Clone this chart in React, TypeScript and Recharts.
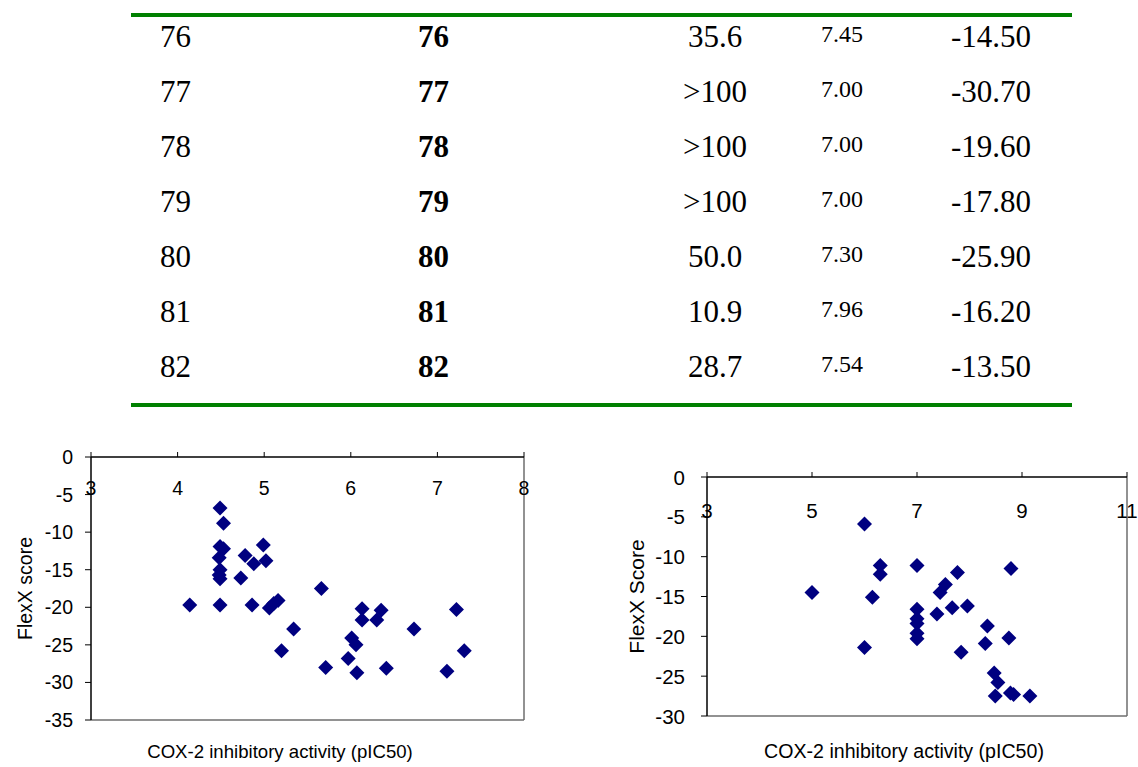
import { ScatterChart, Scatter, XAxis, YAxis, ReferenceLine } from 'recharts'

// table rows above the charts
const tableIds = ['76', '77', '78', '79', '80', '81', '82']
const tableIc50 = ['35.6', '>100', '>100', '>100', '50.0', '10.9', '28.7']
const tablePic50 = ['7.45', '7.00', '7.00', '7.00', '7.30', '7.96', '7.54']
const tableFlexX = ['-14.50', '-30.70', '-19.60', '-17.80', '-25.90', '-16.20', '-13.50']

// left scatter
const leftPic50 = [
  4.49, 4.53, 4.49, 4.53, 4.48, 4.49, 4.48, 4.49, 4.14, 4.49, 4.78, 4.88, 4.99, 5.02, 4.73, 4.86, 5.06, 5.11,
  5.16, 5.34, 5.2, 5.66, 5.71, 6.13, 6.13, 6.35, 6.3, 6.01, 6.06, 5.97, 6.07, 6.41, 6.73, 7.22, 7.31, 7.11,
]
const leftScore = [
  -6.8, -8.8, -11.9, -12.2, -13.4, -15.0, -15.7, -16.2, -19.7, -19.7, -13.1, -14.2, -11.7, -13.8, -16.1, -19.7,
  -20.1, -19.5, -19.1, -22.9, -25.8, -17.5, -28.0, -20.2, -21.7, -20.4, -21.7, -24.1, -25.0, -26.8, -28.7,
  -28.1, -22.9, -20.3, -25.8, -28.5,
]
const leftXTicks = [3, 4, 5, 6, 7, 8]
const leftYTicks = [0, -5, -10, -15, -20, -25, -30, -35]

// right scatter
const rightPic50 = [
  6.0, 5.0, 6.15, 6.3, 6.3, 6.0, 7.0, 7.0, 7.0, 7.0, 7.0, 7.0, 7.38, 7.44, 7.54, 7.67, 7.77, 7.84, 7.96, 8.34,
  8.3, 8.75, 8.79, 8.47, 8.54, 8.49, 8.78, 8.84, 9.15,
]
const rightScore = [
  -5.9, -14.5, -15.1, -11.1, -12.2, -21.4, -11.1, -16.6, -17.8, -18.4, -19.6, -20.3, -17.2, -14.5, -13.5, -16.4,
  -12.0, -22.0, -16.2, -18.7, -20.9, -20.2, -11.5, -24.6, -25.8, -27.5, -27.1, -27.3, -27.5,
]
const rightXTicks = [3, 5, 7, 9, 11]
const rightYTicks = [0, -5, -10, -15, -20, -25, -30]

const NAVY = '#000080'
const SANS = '"Liberation Sans", Arial, sans-serif'
const SERIF = '"Liberation Serif", "Times New Roman", serif'

function Diamond(props: any) {
  const { cx, cy } = props
  const r = 7.5
  return <polygon points={`${cx},${cy - r} ${cx + r},${cy} ${cx},${cy + r} ${cx - r},${cy}`} fill={NAVY} />
}

function DataTable() {
  const base = 46.5
  const step = 55
  return (
    <svg width={1138} height={420} style={{ position: 'absolute', left: 0, top: 0 }}>
      <rect x={131} y={13} width={941} height={4} fill="#008000" />
      <rect x={131} y={403} width={941} height={4} fill="#008000" />
      {tableIds.map((id, i) => {
        const y = base + i * step
        return (
          <g key={id} fontFamily={SERIF} fill="#000">
            <text x={160} y={y} fontSize={31}>{id}</text>
            <text x={418} y={y} fontSize={31} fontWeight="bold">{id}</text>
            <text x={715} y={y} fontSize={31} textAnchor="middle">{tableIc50[i]}</text>
            <text x={842} y={y - 5} fontSize={24} textAnchor="middle">{tablePic50[i]}</text>
            <text x={991} y={y} fontSize={31} textAnchor="middle">{tableFlexX[i]}</text>
          </g>
        )
      })}
    </svg>
  )
}

interface PanelProps {
  left: number
  width: number
  margin: { top: number; right: number; bottom: number; left: number }
  xs: number[]
  ys: number[]
  xTicks: number[]
  yTicks: number[]
  tickFont: number
  titleFont: number
  yTitleFont: number
  xLabelY: number
  yLabelRight: number
  yTitle: string
  yTitleX: number
  xTitleX: number
}

function Panel(p: PanelProps) {
  const data = p.xs.map((x, i) => ({ x, y: p.ys[i] }))
  const xMin = p.xTicks[0]
  const xMax = p.xTicks[p.xTicks.length - 1]
  const yMin = p.yTicks[p.yTicks.length - 1]
  const height = 337
  const plotTop = p.margin.top + 20
  const plotBottom = height - p.margin.bottom
  const midY = (plotTop + plotBottom) / 2
  const txt = { fontSize: p.tickFont, fontFamily: SANS, fill: '#000' }

  const XTick = (t: any) => (
    <text x={t.x} y={p.xLabelY} textAnchor="middle" dominantBaseline="central" style={txt}>
      {t.payload.value}
    </text>
  )
  const YTick = (t: any) => (
    <text x={p.yLabelRight} y={t.y} textAnchor="end" dominantBaseline="central" style={txt}>
      {t.payload.value}
    </text>
  )

  return (
    <div style={{ position: 'absolute', left: p.left, top: 430 }}>
      <ScatterChart width={p.width} height={height} margin={p.margin}>
        <XAxis
          type="number"
          dataKey="x"
          orientation="top"
          height={20}
          domain={[xMin, xMax]}
          ticks={p.xTicks}
          interval={0}
          tickSize={5}
          axisLine={{ stroke: '#000', strokeWidth: 1.5 }}
          tickLine={{ stroke: '#000' }}
          tick={XTick}
          label={() => (
            <text x={p.xTitleX} y={328} textAnchor="middle" style={{ fontSize: p.titleFont, fontFamily: SANS, fill: '#000' }}>
              COX-2 inhibitory activity (pIC50)
            </text>
          )}
        />
        <YAxis
          type="number"
          dataKey="y"
          width={60}
          domain={[yMin, 0]}
          ticks={p.yTicks}
          interval={0}
          tickSize={6}
          axisLine={{ stroke: '#000', strokeWidth: 1.5 }}
          tickLine={{ stroke: '#000' }}
          tick={YTick}
          label={() => (
            <text
              x={p.yTitleX}
              y={midY}
              transform={`rotate(-90 ${p.yTitleX} ${midY})`}
              textAnchor="middle"
              dominantBaseline="central"
              style={{ fontSize: p.yTitleFont, fontFamily: SANS, fill: '#000' }}
            >
              {p.yTitle}
            </text>
          )}
        />
        <ReferenceLine x={xMax} stroke="#6e6e6e" strokeWidth={1.5} />
        <ReferenceLine y={yMin} stroke="#6e6e6e" strokeWidth={1.5} />
        <Scatter data={data} fill={NAVY} shape={(s: any) => <Diamond {...s} />} isAnimationActive={false} />
      </ScatterChart>
    </div>
  )
}

export default function App() {
  return (
    <div style={{ position: 'absolute', left: 0, top: 0, width: 1138, height: 767, background: '#fff' }}>
      <DataTable />
      <Panel
        left={0}
        width={560}
        margin={{ top: 7, right: 36, bottom: 47, left: 31 }}
        xs={leftPic50}
        ys={leftScore}
        xTicks={leftXTicks}
        yTicks={leftYTicks}
        tickFont={19.5}
        titleFont={18.6}
        yTitleFont={19.5}
        xLabelY={58}
        yLabelRight={73}
        yTitle="FlexX score"
        yTitleX={25}
        xTitleX={280}
      />
      <Panel
        left={600}
        width={538}
        margin={{ top: 27, right: 11, bottom: 51, left: 47 }}
        xs={rightPic50}
        ys={rightScore}
        xTicks={rightXTicks}
        yTicks={rightYTicks}
        tickFont={20.5}
        titleFont={19.6}
        yTitleFont={21}
        xLabelY={80}
        yLabelRight={85}
        yTitle="FlexX Score"
        yTitleX={36}
        xTitleX={304}
      />
    </div>
  )
}
